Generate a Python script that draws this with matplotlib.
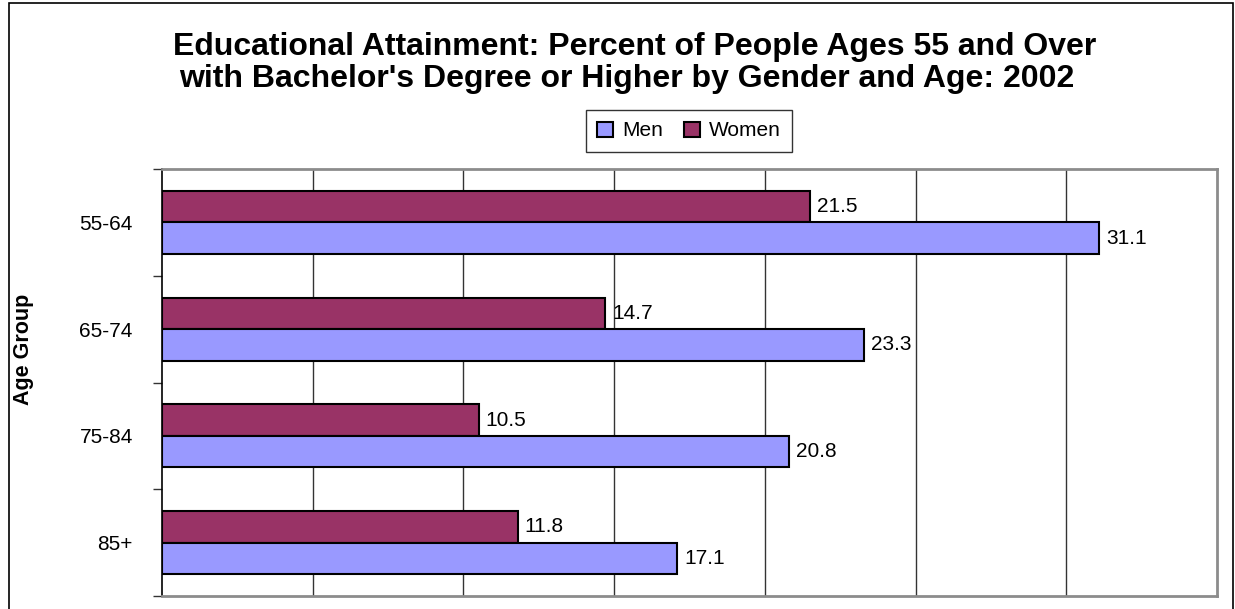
import matplotlib
matplotlib.use("Agg")
import matplotlib.pyplot as plt
from matplotlib.patches import Rectangle, Patch
import numpy as np

plt.rcParams['font.family'] = ['Liberation Sans', 'DejaVu Sans']

# Data
age_groups = ["55-64", "65-74", "75-84", "85+"]
men = [31.1, 23.3, 20.8, 17.1]
women = [21.5, 14.7, 10.5, 11.8]

title_line1 = "Educational Attainment: Percent of People Ages 55 and Over"
title_line2 = "with Bachelor's Degree or Higher by Gender and Age: 2002"

men_color = "#9999FF"
women_color = "#993366"

W, H = 1235, 609
fig = plt.figure(figsize=(W / 100, H / 100), dpi=100)

# Outer chart frame
fig.patches.append(Rectangle((9 / W, -0.05), (1233 - 9) / W, 1 - 3 / H + 0.05,
                             transform=fig.transFigure, fill=False,
                             edgecolor="black", linewidth=1.2))

left, right, top, bottom = 162, 1217, 169, 596
ax = fig.add_axes([left / W, 1 - bottom / H, (right - left) / W, (bottom - top) / H])

y = np.arange(len(age_groups))
bh = 0.295
ax.barh(y - bh / 2, women, height=bh, color=women_color, edgecolor="black",
        linewidth=1.5, zorder=3, label="Women")
ax.barh(y + bh / 2, men, height=bh, color=men_color, edgecolor="black",
        linewidth=1.5, zorder=3, label="Men")

for yi, v in zip(y - bh / 2, women):
    ax.annotate(f"{v}", (v, yi), xytext=(5, 0), textcoords="offset points",
                va="center", ha="left", fontsize=15)
for yi, v in zip(y + bh / 2, men):
    ax.annotate(f"{v}", (v, yi), xytext=(5, 0), textcoords="offset points",
                va="center", ha="left", fontsize=15)

ax.set_xlim(0, 35)
ax.set_ylim(len(age_groups) - 0.5, -0.5)
ax.set_xticks(np.arange(5, 35, 5))
ax.tick_params(axis="x", length=0, labelbottom=False)
ax.grid(axis="x", color="#333333", linewidth=1.0, zorder=0)

# Category boundaries carry the tick marks; labels sit at the centers
ax.set_yticks(np.arange(-0.5, len(age_groups) + 0.5, 1.0))
ax.set_yticklabels([])
ax.tick_params(axis="y", which="major", length=6.5, width=1, color="#333333", direction="out")
ax.set_yticks(y, minor=True)
ax.set_yticklabels(age_groups, minor=True, fontsize=15)
ax.tick_params(axis="y", which="minor", length=0, pad=21)

for s in ("top", "right", "bottom"):
    ax.spines[s].set_color("#8c8c8c")
    ax.spines[s].set_linewidth(2)
ax.spines["left"].set_color("black")
ax.spines["left"].set_linewidth(1.2)

fig.text(23 / W, 1 - 349 / H, "Age Group", rotation=90, ha="center", va="center",
         fontsize=15.5, fontweight="bold")

fig.text(635 / W, 1 - 55 / H, title_line1, ha="center", va="baseline",
         fontsize=23, fontweight="bold")
fig.text(627 / W, 1 - 87 / H, title_line2, ha="center", va="baseline",
         fontsize=23, fontweight="bold")

handles = [Patch(facecolor=men_color, edgecolor="black", linewidth=1.5, label="Men"),
           Patch(facecolor=women_color, edgecolor="black", linewidth=1.5, label="Women")]
leg = fig.legend(handles=handles, loc="center", bbox_to_anchor=(689 / W, 1 - 131 / H),
                 ncol=2, fontsize=15, frameon=True, fancybox=False, handlelength=0.75,
                 handleheight=0.75, handletextpad=0.45, columnspacing=1.0,
                 borderpad=0.55, borderaxespad=0)
leg.get_frame().set_edgecolor("black")
leg.get_frame().set_linewidth(1.0)

fig.savefig("out.png", dpi=100)
